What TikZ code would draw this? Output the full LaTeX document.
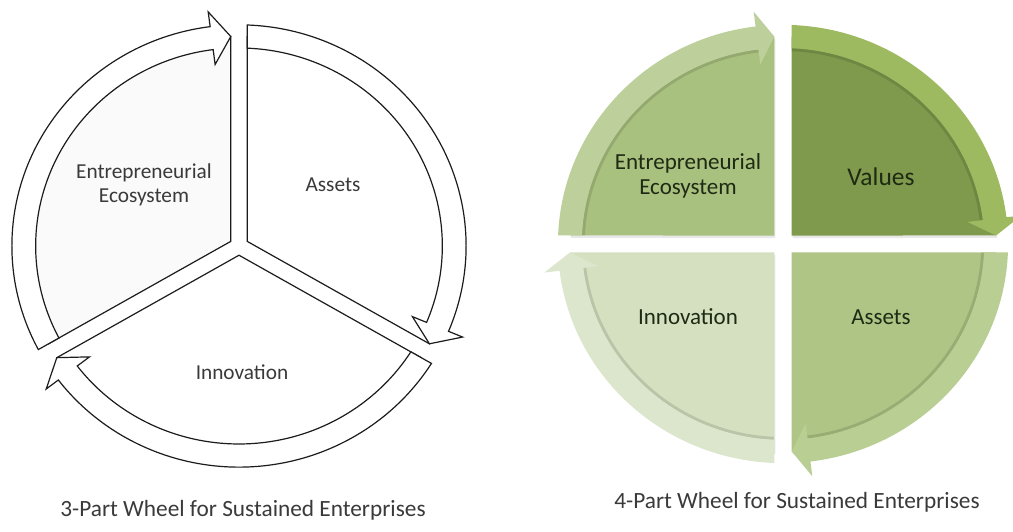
\documentclass[tikz,border=0pt]{standalone}
\usepackage{fontspec}
\setmainfont{Carlito}
\definecolor{eWedge}{HTML}{A9C17F}
\definecolor{eBand}{HTML}{BDD09B}
\definecolor{vWedge}{HTML}{7F9A4C}
\definecolor{vBand}{HTML}{9DBA60}
\definecolor{aWedge}{HTML}{AEC585}
\definecolor{aBand}{HTML}{B8CE93}
\definecolor{iWedge}{HTML}{D4E0C0}
\definecolor{iBand}{HTML}{DCE6CC}
\definecolor{lineInk}{HTML}{1C1C1C}
\definecolor{labelInk}{HTML}{3A3A3A}
\definecolor{greenInk}{HTML}{1E2A14}
% point on the (slightly wide) wheel: radius #1, angle #2
\newcommand\wpt[2]{({\wcx+\wkx*(#1)*cos(#2)},{\wcy+(#1)*sin(#2)})}
% pie wedge between divider angles #1 (head side) and #2 (tail side)
\newcommand\wedgepath[2]{%
  \wpt{\wk}{(#1+#2)/2} -- \wpt{veclen(\wrm,\wg)}{#1+atan(\wg/\wrm)}
  arc[start angle={#1+atan(\wg/\wrm)}, end angle={#2-atan(\wg/\wrm)},
      x radius={\wkx*veclen(\wrm,\wg)}, y radius={veclen(\wrm,\wg)}] -- cycle}
% inner rim of a band, used for the soft shading under each band
\newcommand\rimpath[2]{%
  \wpt{\wri-1.5}{#1+\wha} arc[start angle={#1+\wha}, end angle={#2-atan(\wg/\wri)},
      x radius={\wkx*(\wri-1.5)}, y radius={\wri-1.5}]}
% curved clockwise arrow band from tail #2 to head #1
\newcommand\bandpath[2]{%
  \wpt{veclen(\wri,\wg)}{#2-atan(\wg/\wri)} -- \wpt{veclen(\wro,\wg)}{#2-atan(\wg/\wro)}
  arc[start angle={#2-atan(\wg/\wro)}, end angle={#1+\wha},
      x radius={\wkx*veclen(\wro,\wg)}, y radius={veclen(\wro,\wg)}]
  -- \wpt{\wrwo}{#1+\wha} -- \wpt{veclen(\wrm,\wg)}{#1+atan(\wg/\wrm)}
  -- \wpt{\wrwi}{#1+\wha} -- \wpt{\wri}{#1+\wha}
  arc[start angle={#1+\wha}, end angle={#2-atan(\wg/\wri)},
      x radius={\wkx*\wri}, y radius={\wri}] -- cycle}
\begin{document}
\begin{tikzpicture}[x=1pt,y=1pt,
  outlined/.style={draw=lineInk, line width=1.2pt, fill=#1},
  soft/.style={fill=black, opacity=.09, shift={(1,-2.5)}},
  rim/.style={draw=black, opacity=.12, line width=3pt},
  plainlabel/.style={text=labelInk, align=center, font=\fontsize{21.3}{24}\selectfont},
  greenlabel/.style={text=greenInk, align=center, font=\fontsize{23}{25}\selectfont},
  caption/.style={text=labelInk, font=\fontsize{23.3}{26}\selectfont}]
\useasboundingbox (0,0) rectangle (1013,532);
\fill[white] (0,0) rectangle (1013,532);

% ---------- three-part wheel ----------
\begin{scope}
  \def\wcx{239}\def\wcy{286}\def\wkx{1.027}
  \def\wg{8}\def\wri{198}\def\wro{221}\def\wrm{209.5}
  \def\wrwi{183}\def\wrwo{236}\def\wha{7.3}\def\wk{9.24}
  \path[outlined=black!2] \wedgepath{90}{210};
  \path[outlined=white] \bandpath{90}{210};
  \path[outlined=white] \wedgepath{-30}{90};
  \path[outlined=white] \bandpath{-30}{90};
  \path[outlined=white] \wedgepath{210}{330};
  \path[outlined=white] \bandpath{210}{330};
\end{scope}
\node[plainlabel] (l-eco) at (144,347) {Entrepreneurial\\Ecosystem};
\node[plainlabel] (l-assets) at (333,347) {Assets};
\node[plainlabel] (l-innov) at (242,160) {Innovation};
\node[caption] (l-cap) at (243,22) {3-Part Wheel for Sustained Enterprises};

% ---------- four-part wheel ----------
\begin{scope}
  \def\wcx{783}\def\wcy{288}\def\wkx{1.027}
  \def\wg{8.5}\def\wri{196}\def\wro{219}\def\wrm{207.5}
  \def\wrwi{181}\def\wrwo{234}\def\wha{7}\def\wk{12}
  % soft drop shadows
  \path[soft] \wedgepath{90}{180};
  \path[soft] \wedgepath{0}{90};
  \path[soft] \wedgepath{-90}{0};
  \path[soft] \wedgepath{180}{270};
  % sectors: wedge, shading under the band, band
  \path[fill=eWedge] \wedgepath{90}{180};
  \begin{scope}\clip \wedgepath{90}{180}; \path[rim] \rimpath{90}{180}; \end{scope}
  \path[fill=eBand] \bandpath{90}{180};
  \path[fill=vWedge] \wedgepath{0}{90};
  \begin{scope}\clip \wedgepath{0}{90}; \path[rim] \rimpath{0}{90}; \end{scope}
  \path[fill=vBand] \bandpath{0}{90};
  \path[fill=aWedge] \wedgepath{-90}{0};
  \begin{scope}\clip \wedgepath{-90}{0}; \path[rim] \rimpath{-90}{0}; \end{scope}
  \path[fill=aBand] \bandpath{-90}{0};
  \path[fill=iWedge] \wedgepath{180}{270};
  \begin{scope}\clip \wedgepath{180}{270}; \path[rim] \rimpath{180}{270}; \end{scope}
  \path[fill=iBand] \bandpath{180}{270};
\end{scope}
\node[greenlabel] (r-eco) at (688,356) {Entrepreneurial\\Ecosystem};
\node[greenlabel, font=\fontsize{25.5}{28}\selectfont] (r-values) at (881,355) {Values};
\node[greenlabel] (r-innov) at (688,215) {Innovation};
\node[greenlabel] (r-assets) at (881,215) {Assets};
\node[caption] (r-cap) at (797,30) {4-Part Wheel for Sustained Enterprises};
\end{tikzpicture}
\end{document}
